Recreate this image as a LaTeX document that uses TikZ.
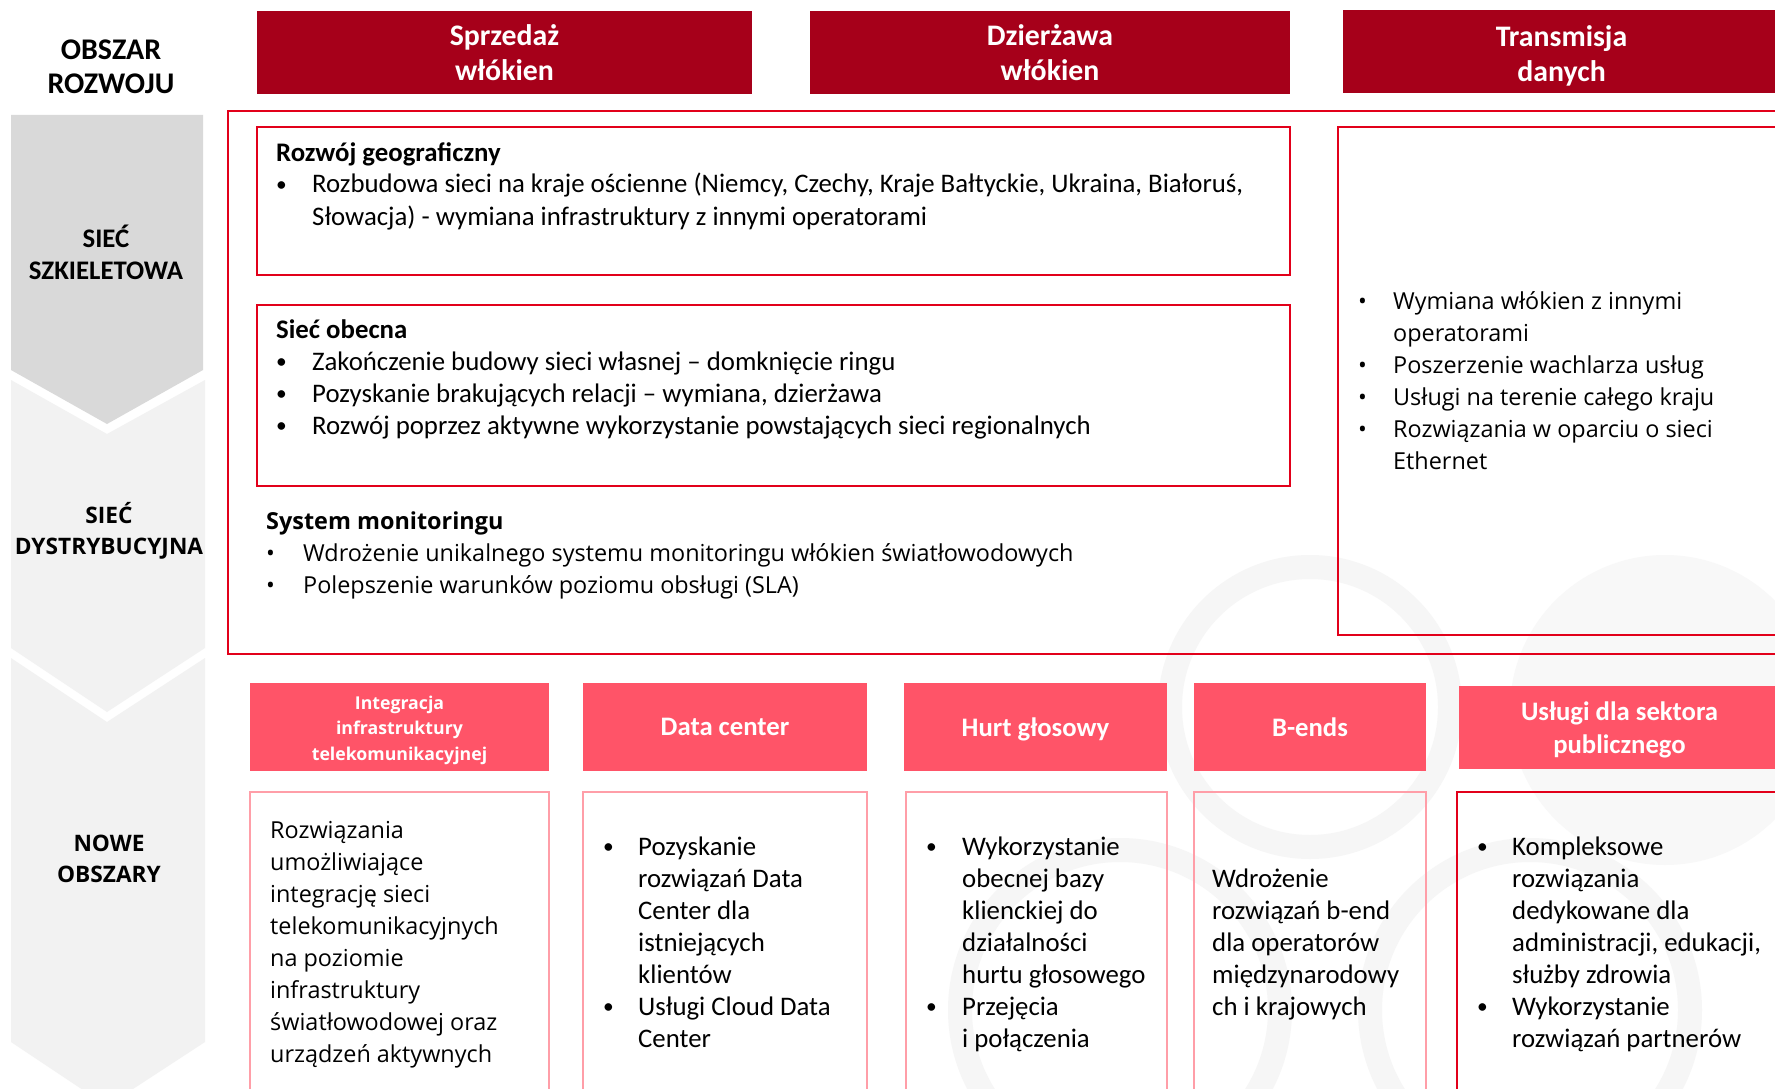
\documentclass[tikz,border=0pt]{standalone}
\usepackage{fontspec}
\usepackage{array}
\usepackage{graphicx}
\newfontfamily\calib{Carlito}
\newfontfamily\segoe{Open Sans}
\definecolor{darkred}{HTML}{A6001A}
\definecolor{rosered}{HTML}{FF5468}
\definecolor{framered}{HTML}{E2001A}
\definecolor{palered}{HTML}{FF9EA8}
\definecolor{chevdark}{HTML}{D9D9D9}
\definecolor{chevlight}{HTML}{F2F2F2}
\definecolor{ringgray}{HTML}{F6F6F6}
\definecolor{discgray}{HTML}{F8F8F8}
\newcommand{\calfont}{\calib\fontsize{26.8}{32}\selectfont}
\newcommand{\segfont}{\segoe\fontsize{23.4}{32}\selectfont}
\newcommand{\blt}{\raisebox{0.06em}{\scalebox{0.8}{\textbullet}}}
\newcommand{\blist}[2]{\begin{tabular}[t]{@{}p{#1}@{}l@{}}#2\end{tabular}}

\begin{document}
\begin{tikzpicture}[x=1pt,y=-1pt,
        headbox/.style={fill=darkred,text=white,font=\calib\bfseries\fontsize{29.8}{35}\selectfont,align=center,inner sep=0},
        tabbox/.style={fill=rosered,text=white,font=\calib\bfseries\fontsize{26.7}{33}\selectfont,align=center,inner sep=0},
        sidelabel/.style={font=\calib\bfseries\fontsize{26.8}{32}\selectfont,align=center,inner sep=0},
        sideseg/.style={font=\segoe\bfseries\fontsize{22.7}{31}\selectfont,align=center,inner sep=0},
        txt/.style={anchor=base west,inner sep=0,font=\calfont},
        txtseg/.style={anchor=base west,inner sep=0,font=\segfont},
        redframe/.style={draw=framered,line width=2pt},
        paleframe/.style={draw=palered,line width=2pt},
        ringline/.style={draw=ringgray,line width=24pt}]
    \useasboundingbox[fill=white] (0,0) rectangle (1775,1089);
    \clip (0,0) rectangle (1775,1089);

    \draw[ringline] (1310,707) circle (140pt);
    \fill[discgray] (1665,710) circle (155pt);
    \draw[ringline] (1120,1010) circle (160pt);
    \draw[ringline] (1530,1010) circle (160pt);

    \fill[chevdark] (11,115) -- (203,115) -- (203,370) -- (107,424) -- (11,370) -- cycle;
    \fill[chevlight] (11,380) -- (107,434) -- (205,380) -- (205,648) -- (107,712) -- (11,648) -- cycle;
    \fill[chevlight] (11,658) -- (107,722) -- (205,658) -- (205,1042) -- (107,1106) -- (11,1042) -- cycle;

    \node[sidelabel,font=\calib\bfseries\fontsize{30}{34}\selectfont] (area) at (111,67) {OBSZAR\\ROZWOJU};
    \node[sidelabel] (backbone) at (106,252) {SIEĆ\\SZKIELETOWA};
    \node[sideseg] (distrib) at (109,531) {SIEĆ\\DYSTRYBUCYJNA};
    \node[sideseg] (newareas) at (109,859) {NOWE\\OBSZARY};

    \node[headbox,minimum width=495pt,minimum height=83pt] (sales) at (504.5,52.5) {Sprzedaż\\włókien};
    \node[headbox,minimum width=480pt,minimum height=83pt] (lease) at (1050,52.5) {Dzierżawa\\włókien};
    \node[headbox,minimum width=437pt,minimum height=83pt] (transfer) at (1561.5,52) {};
    \node[headbox,fill=none] (transfertitle) at (1561.5,55.5) {Transmisja\\danych};

    \draw[redframe] (1780,111) -- (228,111) -- (228,654) -- (1780,654);
    \draw[redframe] (257,127) rectangle (1290,275);
    \draw[redframe] (257,305) rectangle (1290,486);
    \draw[redframe] (1780,127) -- (1338,127) -- (1338,635) -- (1780,635);

    \node[txt] (geo) at (276,161) {\blist{36pt}{%
        \multicolumn{2}{@{}l@{}}{\bfseries Rozwój geograficzny}\\
        \blt & Rozbudowa sieci na kraje ościenne (Niemcy, Czechy, Kraje Bałtyckie, Ukraina, Białoruś,\\
        & Słowacja) - wymiana infrastruktury z innymi operatorami}};
    \node[txt] (current) at (276,338.5) {\blist{36pt}{%
        \multicolumn{2}{@{}l@{}}{\bfseries Sieć obecna}\\
        \blt & Zakończenie budowy sieci własnej – domknięcie ringu\\
        \blt & Pozyskanie brakujących relacji – wymiana, dzierżawa\\
        \blt & Rozwój poprzez aktywne wykorzystanie powstających sieci regionalnych}};
    \node[txtseg] (monitor) at (266,529.5) {\blist{37pt}{%
        \multicolumn{2}{@{}l@{}}{\bfseries System monitoringu}\\
        \textbullet & Wdrożenie unikalnego systemu monitoringu włókien światłowodowych\\
        \textbullet & Polepszenie warunków poziomu obsługi (SLA)}};
    \node[txtseg] (transfertxt) at (1358,309.5) {\blist{35pt}{%
        \textbullet & Wymiana włókien z innymi\\
        & operatorami\\
        \textbullet & Poszerzenie wachlarza usług\\
        \textbullet & Usługi na terenie całego kraju\\
        \textbullet & Rozwiązania w oparciu o sieci\\
        & Ethernet}};

    \node[tabbox,minimum width=299pt,minimum height=88pt] (integ) at (399.5,727) {};
    \node[tabbox,fill=none,font=\segoe\bfseries\fontsize{17.7}{25.5}\selectfont] (integtitle) at (399.5,730) {Integracja\\infrastruktury\\telekomunikacyjnej};
    \node[tabbox,minimum width=284pt,minimum height=88pt] (datacenter) at (725,727) {Data center};
    \node[tabbox,minimum width=263pt,minimum height=88pt] (voice) at (1035.5,727) {};
    \node[tabbox,fill=none] (voicetitle) at (1035.5,729.5) {Hurt głosowy};
    \node[tabbox,minimum width=232pt,minimum height=88pt] (bends) at (1310,727) {B-ends};
    \node[tabbox,minimum width=321pt,minimum height=83pt] (public) at (1619.5,727.5) {};
    \node[tabbox,fill=none] (publictitle) at (1619.5,730) {Usługi dla sektora\\publicznego};

    \draw[paleframe] (250,792) rectangle (549,1100);
    \draw[paleframe] (583,792) rectangle (867,1100);
    \draw[paleframe] (906,792) rectangle (1167,1100);
    \draw[paleframe] (1194,792) rectangle (1426,1100);
    \draw[redframe] (1780,792) -- (1457,792) -- (1457,1100);

    \node[txtseg] (integtxt) at (270,838.5) {\begin{tabular}[t]{@{}l@{}}
        Rozwiązania\\ umożliwiające\\ integrację sieci\\ telekomunikacyjnych\\
        na poziomie\\ infrastruktury\\ światłowodowej oraz\\ urządzeń aktywnych\end{tabular}};
    \node[txt] (datacentertxt) at (603,855.5) {\blist{35pt}{%
        \blt & Pozyskanie\\ & rozwiązań Data\\ & Center dla\\ & istniejących\\ & klientów\\
        \blt & Usługi Cloud Data\\ & Center}};
    \node[txt] (voicetxt) at (926,855.5) {\blist{36pt}{%
        \blt & Wykorzystanie\\ & obecnej bazy\\ & klienckiej do\\ & działalności\\ & hurtu głosowego\\
        \blt & Przejęcia\\ & i połączenia}};
    \node[txt] (bendstxt) at (1212,887.5) {\begin{tabular}[t]{@{}l@{}}
        Wdrożenie\\ rozwiązań b-end\\ dla operatorów\\ międzynarodowy\\ ch i krajowych\end{tabular}};
    \node[txt] (publictxt) at (1477,855.5) {\blist{35pt}{%
        \blt & Kompleksowe\\ & rozwiązania\\ & dedykowane dla\\ & administracji, edukacji,\\ & służby zdrowia\\
        \blt & Wykorzystanie\\ & rozwiązań partnerów}};
\end{tikzpicture}
\end{document}
